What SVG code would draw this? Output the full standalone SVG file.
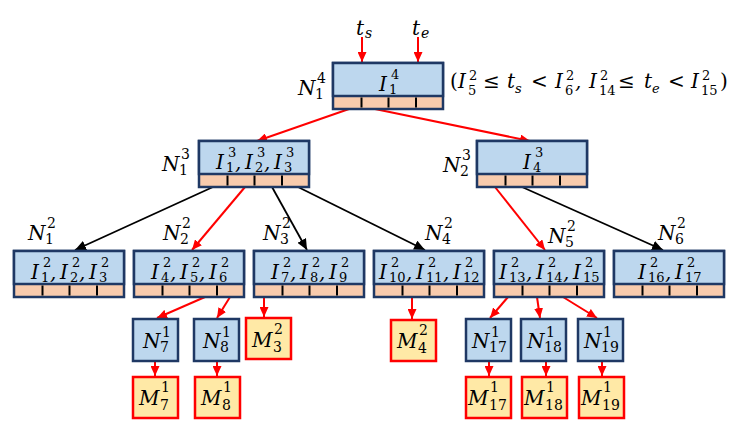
<svg xmlns="http://www.w3.org/2000/svg" width="748" height="426" viewBox="0 0 748 426">
<style>
text{font-family:"DejaVu Serif",serif;font-style:italic;font-size:20px;fill:#000}
.d{font-style:normal;font-size:13px}
.ds{font-size:13px}
.lb{font-size:20px}
.ld{font-style:normal;font-size:14px}
.ls{font-size:14px}
.up{font-style:normal}
.nb{fill:#BDD7EE;stroke:#1F3864;stroke-width:2.5}
.ob{fill:#F8CBAD;stroke:#1F3864;stroke-width:2.5}
.dv{stroke:#000;stroke-width:2;fill:none}
.mb{fill:#FFE9A6;stroke:#FF0000;stroke-width:2.5}
.r{stroke:#FF0000;stroke-width:2;fill:none;marker-end:url(#ar)}
.k{stroke:#000;stroke-width:1.8;fill:none;marker-end:url(#ak)}
</style>
<defs>
<marker id="ar" viewBox="0 0 10 9" refX="10" refY="4.5" markerWidth="10" markerHeight="9" markerUnits="userSpaceOnUse" orient="auto"><path d="M0,0L10,4.5L0,9z" fill="#FF0000"/></marker>
<marker id="ak" viewBox="0 0 10 9" refX="10" refY="4.5" markerWidth="11" markerHeight="10" markerUnits="userSpaceOnUse" orient="auto"><path d="M0,0L10,4.5L0,9z" fill="#000"/></marker>
</defs>

<g id="inputs">
<text class="lb"><tspan x="356" y="35">t</tspan><tspan class="ls" x="365" y="38">s</tspan></text>
<text class="lb"><tspan x="412" y="35">t</tspan><tspan class="ls" x="421" y="38">e</tspan></text>
</g>

<g id="connectors">
<path class="r" d="M362 37V62"/>
<path class="r" d="M418 37V62"/>
<path class="r" d="M349 109L257 141"/>
<path class="r" d="M375 109L530 141"/>
<path class="k" d="M213 187L75 250"/>
<path class="r" d="M245 187L192 250"/>
<path class="k" d="M272 187L307 250"/>
<path class="k" d="M298 187L425 250"/>
<path class="r" d="M495 187L545 250"/>
<path class="k" d="M522 187L663 250"/>
<path class="r" d="M205 297L157 318"/>
<path class="r" d="M230 297L217 318"/>
<path class="r" d="M264 272V317"/>
<path class="r" d="M412 272V319"/>
<path class="r" d="M508 297L490 318"/>
<path class="r" d="M537 297L540 318"/>
<path class="r" d="M563 297L597 318"/>
<path class="r" d="M155 362V376"/>
<path class="r" d="M217 362V376"/>
<path class="r" d="M489 362V376"/>
<path class="r" d="M546 362V376"/>
<path class="r" d="M602 362V376"/>
</g>

<g id="N1-4">
<rect class="ob" x="333" y="63" width="110" height="46"/>
<rect class="nb" x="333" y="63" width="110" height="33"/>
<path class="dv" d="M361.5 97.5v10M388.5 97.5v10M416 97.5v10"/>
<text><tspan x="379" y="91">I</tspan><tspan class="d" x="391" y="79">4</tspan><tspan class="d" x="389" y="94">1</tspan></text>
<text class="lb"><tspan x="298" y="95">N</tspan><tspan class="ld" x="317" y="83">4</tspan><tspan class="ld" x="315" y="99">1</tspan></text>
</g>

<g id="condition">
<text><tspan class="up" x="450" y="88">(</tspan><tspan x="458" y="88">I</tspan><tspan class="d" x="469" y="80">2</tspan><tspan class="d" x="468" y="95">5</tspan><tspan class="up" x="483" y="88">≤</tspan><tspan x="507" y="88">t</tspan><tspan class="ds" x="515" y="93">s</tspan><tspan class="up" x="531" y="88">&lt;</tspan><tspan x="555" y="88">I</tspan><tspan class="d" x="566" y="80">2</tspan><tspan class="d" x="565" y="95">6</tspan><tspan x="575" y="88">,</tspan><tspan x="589" y="88">I</tspan><tspan class="d" x="600" y="80">2</tspan><tspan class="d" x="599" y="95">14</tspan><tspan class="up" x="618" y="88">≤</tspan><tspan x="644" y="88">t</tspan><tspan class="ds" x="652" y="93">e</tspan><tspan class="up" x="668" y="88">&lt;</tspan><tspan x="691" y="88">I</tspan><tspan class="d" x="702" y="80">2</tspan><tspan class="d" x="701" y="95">15</tspan><tspan class="up" x="720" y="88">)</tspan></text>
</g>

<g id="N1-3">
<rect class="ob" x="199" y="141" width="110" height="46"/>
<rect class="nb" x="199" y="141" width="110" height="33"/>
<path class="dv" d="M227.5 175.5v10M254.5 175.5v10M282 175.5v10"/>
<text><tspan x="216" y="169">I</tspan><tspan class="d" x="228" y="157">3</tspan><tspan class="d" x="226" y="172">1</tspan><tspan x="235" y="169">,</tspan><tspan x="245" y="169">I</tspan><tspan class="d" x="257" y="157">3</tspan><tspan class="d" x="255" y="172">2</tspan><tspan x="264" y="169">,</tspan><tspan x="274" y="169">I</tspan><tspan class="d" x="286" y="157">3</tspan><tspan class="d" x="284" y="172">3</tspan></text>
<text class="lb"><tspan x="162" y="171">N</tspan><tspan class="ld" x="181" y="159">3</tspan><tspan class="ld" x="179" y="175">1</tspan></text>
</g>

<g id="N2-3">
<rect class="ob" x="477" y="141" width="110" height="46"/>
<rect class="nb" x="477" y="141" width="110" height="33"/>
<path class="dv" d="M505.5 175.5v10M532.5 175.5v10M560 175.5v10"/>
<text><tspan x="523" y="169">I</tspan><tspan class="d" x="535" y="157">3</tspan><tspan class="d" x="533" y="172">4</tspan></text>
<text class="lb"><tspan x="443" y="172">N</tspan><tspan class="ld" x="462" y="160">3</tspan><tspan class="ld" x="460" y="176">2</tspan></text>
</g>

<g id="N1-2">
<rect class="ob" x="14" y="251" width="110" height="46"/>
<rect class="nb" x="14" y="251" width="110" height="33"/>
<path class="dv" d="M42.5 285.5v10M69.5 285.5v10M97 285.5v10"/>
<text><tspan x="31" y="279">I</tspan><tspan class="d" x="43" y="267">2</tspan><tspan class="d" x="41" y="282">1</tspan><tspan x="50" y="279">,</tspan><tspan x="60" y="279">I</tspan><tspan class="d" x="72" y="267">2</tspan><tspan class="d" x="70" y="282">2</tspan><tspan x="79" y="279">,</tspan><tspan x="89" y="279">I</tspan><tspan class="d" x="101" y="267">2</tspan><tspan class="d" x="99" y="282">3</tspan></text>
<text class="lb"><tspan x="28" y="240">N</tspan><tspan class="ld" x="47" y="228">2</tspan><tspan class="ld" x="45" y="244">1</tspan></text>
</g>

<g id="N2-2">
<rect class="ob" x="134" y="251" width="110" height="46"/>
<rect class="nb" x="134" y="251" width="110" height="33"/>
<path class="dv" d="M162.5 285.5v10M189.5 285.5v10M217 285.5v10"/>
<text><tspan x="151" y="279">I</tspan><tspan class="d" x="163" y="267">2</tspan><tspan class="d" x="161" y="282">4</tspan><tspan x="170" y="279">,</tspan><tspan x="180" y="279">I</tspan><tspan class="d" x="192" y="267">2</tspan><tspan class="d" x="190" y="282">5</tspan><tspan x="199" y="279">,</tspan><tspan x="209" y="279">I</tspan><tspan class="d" x="221" y="267">2</tspan><tspan class="d" x="219" y="282">6</tspan></text>
<text class="lb"><tspan x="163" y="240">N</tspan><tspan class="ld" x="182" y="228">2</tspan><tspan class="ld" x="180" y="244">2</tspan></text>
</g>

<g id="N3-2">
<rect class="ob" x="254" y="251" width="110" height="46"/>
<rect class="nb" x="254" y="251" width="110" height="33"/>
<path class="dv" d="M282.5 285.5v10M309.5 285.5v10M337 285.5v10"/>
<text><tspan x="271" y="279">I</tspan><tspan class="d" x="283" y="267">2</tspan><tspan class="d" x="281" y="282">7</tspan><tspan x="290" y="279">,</tspan><tspan x="300" y="279">I</tspan><tspan class="d" x="312" y="267">2</tspan><tspan class="d" x="310" y="282">8</tspan><tspan x="319" y="279">,</tspan><tspan x="329" y="279">I</tspan><tspan class="d" x="341" y="267">2</tspan><tspan class="d" x="339" y="282">9</tspan></text>
<text class="lb"><tspan x="263" y="240">N</tspan><tspan class="ld" x="282" y="228">2</tspan><tspan class="ld" x="280" y="244">3</tspan></text>
</g>

<g id="N4-2">
<rect class="ob" x="374" y="251" width="110" height="46"/>
<rect class="nb" x="374" y="251" width="110" height="33"/>
<path class="dv" d="M402.5 285.5v10M429.5 285.5v10M457 285.5v10"/>
<text><tspan x="379" y="279">I</tspan><tspan class="d" x="391" y="267">2</tspan><tspan class="d" x="389" y="282">10</tspan><tspan x="406" y="279">,</tspan><tspan x="416" y="279">I</tspan><tspan class="d" x="428" y="267">2</tspan><tspan class="d" x="426" y="282">11</tspan><tspan x="443" y="279">,</tspan><tspan x="453" y="279">I</tspan><tspan class="d" x="465" y="267">2</tspan><tspan class="d" x="463" y="282">12</tspan></text>
<text class="lb"><tspan x="425" y="240">N</tspan><tspan class="ld" x="444" y="228">2</tspan><tspan class="ld" x="442" y="244">4</tspan></text>
</g>

<g id="N5-2">
<rect class="ob" x="494" y="251" width="110" height="46"/>
<rect class="nb" x="494" y="251" width="110" height="33"/>
<path class="dv" d="M522.5 285.5v10M549.5 285.5v10M577 285.5v10"/>
<text><tspan x="499" y="279">I</tspan><tspan class="d" x="511" y="267">2</tspan><tspan class="d" x="509" y="282">13</tspan><tspan x="526" y="279">,</tspan><tspan x="536" y="279">I</tspan><tspan class="d" x="548" y="267">2</tspan><tspan class="d" x="546" y="282">14</tspan><tspan x="563" y="279">,</tspan><tspan x="573" y="279">I</tspan><tspan class="d" x="585" y="267">2</tspan><tspan class="d" x="583" y="282">15</tspan></text>
<text class="lb"><tspan x="548" y="243">N</tspan><tspan class="ld" x="567" y="231">2</tspan><tspan class="ld" x="565" y="247">5</tspan></text>
</g>

<g id="N6-2">
<rect class="ob" x="614" y="251" width="110" height="46"/>
<rect class="nb" x="614" y="251" width="110" height="33"/>
<path class="dv" d="M642.5 285.5v10M669.5 285.5v10M697 285.5v10"/>
<text><tspan x="638" y="279">I</tspan><tspan class="d" x="650" y="267">2</tspan><tspan class="d" x="648" y="282">16</tspan><tspan x="665" y="279">,</tspan><tspan x="675" y="279">I</tspan><tspan class="d" x="687" y="267">2</tspan><tspan class="d" x="685" y="282">17</tspan></text>
<text class="lb"><tspan x="658" y="240">N</tspan><tspan class="ld" x="677" y="228">2</tspan><tspan class="ld" x="675" y="244">6</tspan></text>
</g>

<g id="N7-1"><rect class="nb" x="133" y="319" width="45" height="42"/>
<text class="lb"><tspan x="143" y="348">N</tspan><tspan class="ld" x="162" y="337">1</tspan><tspan class="ld" x="160" y="352">7</tspan></text></g>
<g id="N8-1"><rect class="nb" x="194" y="319" width="45" height="42"/>
<text class="lb"><tspan x="203" y="348">N</tspan><tspan class="ld" x="222" y="337">1</tspan><tspan class="ld" x="220" y="352">8</tspan></text></g>
<g id="M3-2"><rect class="mb" x="246" y="318" width="45" height="41"/>
<text class="lb"><tspan x="252" y="347">M</tspan><tspan class="ld" x="274" y="334">2</tspan><tspan class="ld" x="273" y="352">3</tspan></text></g>
<g id="M4-2"><rect class="mb" x="391" y="320" width="45" height="41"/>
<text class="lb"><tspan x="397" y="348">M</tspan><tspan class="ld" x="419" y="335">2</tspan><tspan class="ld" x="418" y="353">4</tspan></text></g>
<g id="N17-1"><rect class="nb" x="466" y="319" width="45" height="42"/>
<text class="lb"><tspan x="472" y="348">N</tspan><tspan class="ld" x="491" y="337">1</tspan><tspan class="ld" x="489" y="352">17</tspan></text></g>
<g id="N18-1"><rect class="nb" x="521" y="319" width="45" height="42"/>
<text class="lb"><tspan x="527" y="348">N</tspan><tspan class="ld" x="546" y="337">1</tspan><tspan class="ld" x="544" y="352">18</tspan></text></g>
<g id="N19-1"><rect class="nb" x="578" y="319" width="45" height="42"/>
<text class="lb"><tspan x="584" y="348">N</tspan><tspan class="ld" x="603" y="337">1</tspan><tspan class="ld" x="601" y="352">19</tspan></text></g>

<g id="M7-1"><rect class="mb" x="133" y="377" width="45" height="41"/>
<text class="lb"><tspan x="139" y="405">M</tspan><tspan class="ld" x="161" y="392">1</tspan><tspan class="ld" x="160" y="410">7</tspan></text></g>
<g id="M8-1"><rect class="mb" x="195" y="377" width="45" height="41"/>
<text class="lb"><tspan x="201" y="405">M</tspan><tspan class="ld" x="223" y="392">1</tspan><tspan class="ld" x="222" y="410">8</tspan></text></g>
<g id="M17-1"><rect class="mb" x="466" y="377" width="45" height="41"/>
<text class="lb"><tspan x="468" y="405">M</tspan><tspan class="ld" x="490" y="392">1</tspan><tspan class="ld" x="489" y="410">17</tspan></text></g>
<g id="M18-1"><rect class="mb" x="522" y="377" width="45" height="41"/>
<text class="lb"><tspan x="524" y="405">M</tspan><tspan class="ld" x="546" y="392">1</tspan><tspan class="ld" x="545" y="410">18</tspan></text></g>
<g id="M19-1"><rect class="mb" x="579" y="377" width="45" height="41"/>
<text class="lb"><tspan x="581" y="405">M</tspan><tspan class="ld" x="603" y="392">1</tspan><tspan class="ld" x="602" y="410">19</tspan></text></g>
</svg>
